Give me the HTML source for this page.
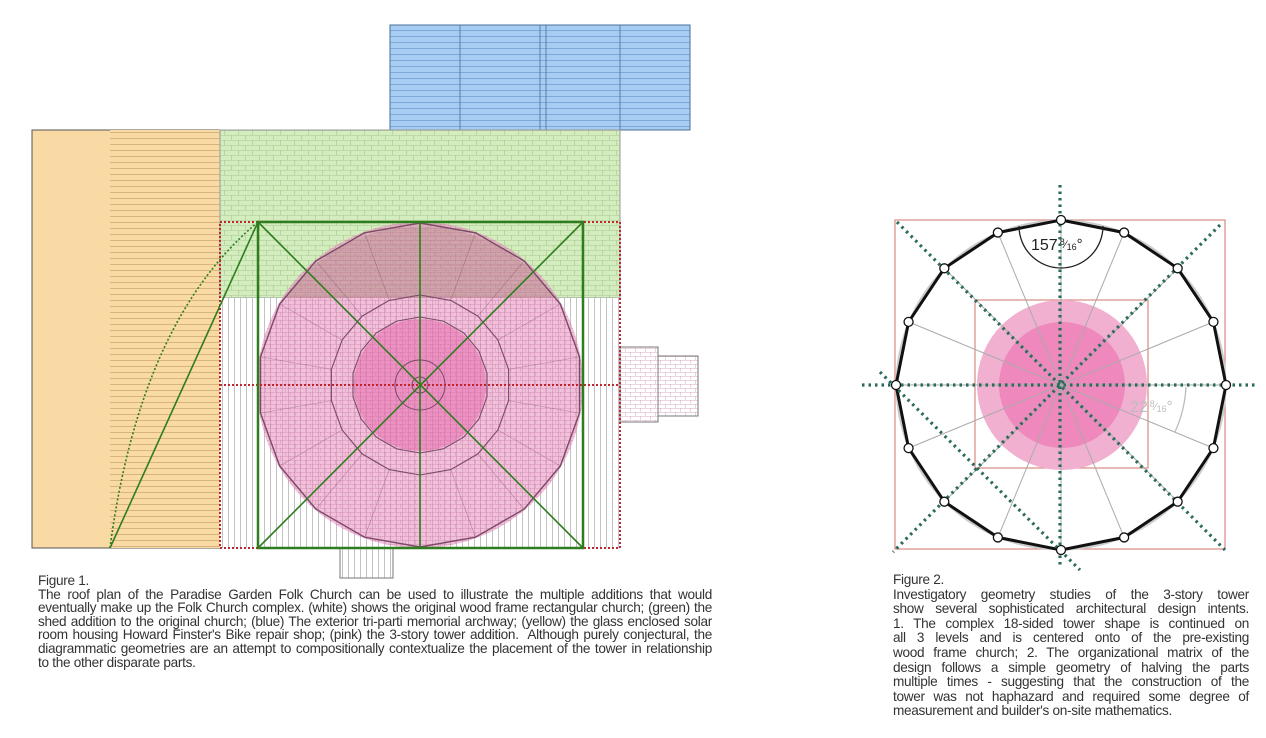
<!DOCTYPE html>
<html><head><meta charset="utf-8"><style>
body{margin:0;background:#fff;width:1266px;height:738px;overflow:hidden;position:relative;font-family:"Liberation Sans",Arial,sans-serif;}
.t{position:absolute;font-size:13.6px;line-height:13.6px;color:#333;letter-spacing:-0.3px;}
.t div{text-align:justify;text-align-last:justify;white-space:nowrap;}
.t div.l{text-align-last:left;}
</style></head><body>
<svg width="1266" height="738" style="position:absolute;left:0;top:0">
<defs>
<pattern id="hl" width="6" height="6" patternUnits="userSpaceOnUse"><rect width="6" height="6" fill="#f9d9a4"/><line x1="0" y1="0.5" x2="6" y2="0.5" stroke="#c9a46a" stroke-width="0.7"/></pattern>
<pattern id="bl" width="6" height="6" patternUnits="userSpaceOnUse"><rect width="6" height="6" fill="#a8cdf2"/><line x1="0" y1="0.5" x2="6" y2="0.5" stroke="#6a9bd0" stroke-width="0.7"/></pattern>
<pattern id="vl" width="6" height="6" patternUnits="userSpaceOnUse"><rect width="6" height="6" fill="#fff"/><line x1="0.5" y1="0" x2="0.5" y2="6" stroke="#aaa" stroke-width="0.7"/></pattern>
<pattern id="gb" width="14" height="10" patternUnits="userSpaceOnUse"><rect width="14" height="10" fill="#d3edbf"/><path d="M0 0.5H14M0 5.5H14M0.5 0V5M7.5 5V10" stroke="#a8c890" stroke-width="0.6" fill="none"/></pattern>
<pattern id="pb" width="10" height="8" patternUnits="userSpaceOnUse"><path d="M0 0.5H10M0 4.5H10M0.5 0V4M5.5 4V8" stroke="#c0709a" stroke-width="0.5" fill="none" opacity="0.6"/></pattern>
</defs>
<rect x="390" y="25" width="300" height="105" fill="url(#bl)" stroke="#4a6f99"/>
<path d="M460 25V130M540 25V130M546 25V130M620 25V130" stroke="#4a6f99" stroke-width="0.8"/>
<rect x="460" y="130" width="160" height="26" fill="#d3edbf" stroke="#999" stroke-width="0.8"/>
<rect x="32" y="130" width="188" height="418" fill="#f9d9a4" stroke="#555"/>
<rect x="110" y="130" width="110" height="418" fill="url(#hl)"/>
<rect x="220" y="130" width="400" height="168" fill="url(#gb)" stroke="#999"/>
<rect x="220" y="298" width="400" height="250" fill="url(#vl)"/>
<rect x="620" y="347" width="38" height="75" fill="url(#pb)" stroke="#777"/>
<rect x="658" y="356" width="40" height="60" fill="url(#pb)" stroke="#777"/>
<rect x="340" y="548" width="53" height="30" fill="url(#vl)" stroke="#777"/>
<circle cx="420" cy="385" r="163" fill="#e98cc0" opacity="0.55"/>
<path d="M285 298A163 163 0 0 1 555 298Z" fill="#b07a80" opacity="0.35"/>
<circle cx="420" cy="385" r="163" fill="url(#pb)"/>
<g id="polys" fill="none" stroke="#7a4a66" stroke-width="1.1"></g>
<circle cx="420" cy="385" r="66" fill="#e35aa4" opacity="0.45"/>
<circle cx="420" cy="385" r="25" fill="none" stroke="#7a4a66"/>
<circle cx="420" cy="385" r="8" fill="none" stroke="#7a4a66"/>
<rect x="220" y="222" width="400" height="326" fill="none" stroke="#c0262e" stroke-width="2" stroke-dasharray="2 2"/>
<line x1="220" y1="385" x2="620" y2="385" stroke="#c0262e" stroke-width="2" stroke-dasharray="2 2"/>
<rect x="258" y="222" width="325" height="326" fill="none" stroke="#2e7d1e" stroke-width="2.5"/>
<path d="M258 222L583 548M583 222L258 548M420 222V548M110 548L258 222" stroke="#2e7d1e" stroke-width="1.6" fill="none"/>
<path d="M110 548Q140 320 258 222" stroke="#2e7d1e" stroke-width="1.6" fill="none" stroke-dasharray="2 2"/>

<rect x="895" y="220" width="330" height="329" fill="none" stroke="#d98a80" stroke-width="1.2"/>
<rect x="975" y="300" width="173" height="168" fill="none" stroke="#d98a80" stroke-width="1.2"/>
<circle cx="1062" cy="385" r="85" fill="#f2b0d0"/>
<circle cx="1062" cy="385" r="63" fill="#ee88bd"/>
<g id="f2"></g>
<path d="M1019 226A42 42 0 0 0 1103 226" fill="none" stroke="#222" stroke-width="1.3"/>
<text x="1031" y="250" font-size="16" fill="#222" font-family="Liberation Sans,sans-serif">157<tspan font-size="9" dx="2" dy="-5">8</tspan><tspan font-size="11" dy="3">⁄</tspan><tspan font-size="9" dy="2">16</tspan><tspan font-size="15" dy="-1">°</tspan></text>
<path d="M1186 387A125 125 0 0 1 1175 432" fill="none" stroke="#bbb" stroke-width="1.3"/>
<text x="1130" y="412" font-size="16" fill="#bdbdbd" font-family="Liberation Sans,sans-serif">22<tspan font-size="9" dx="2" dy="-5">8</tspan><tspan font-size="11" dy="3">⁄</tspan><tspan font-size="9" dy="2">16</tspan><tspan font-size="15" dy="-1">°</tspan></text>
<g stroke="#2b6b5c" stroke-width="3.2" stroke-dasharray="2.5 4" fill="none">
<path d="M1060 185V565M862 385H1258M897 222L1225 550M1220 225L893 552M880 372L1080 570"/>
</g>
<g id="verts"></g>
</svg>
<div class="t" style="left:38px;top:574px;width:674px">
<div class="l">Figure 1.</div>
<div>The roof plan of the Paradise Garden Folk Church can be used to illustrate the multiple additions that would</div>
<div>eventually make up the Folk Church complex. (white) shows the original wood frame rectangular church; (green) the</div>
<div>shed addition to the original church; (blue) The exterior tri-parti memorial archway; (yellow) the glass enclosed solar</div>
<div>room housing Howard Finster's Bike repair shop; (pink) the 3-story tower addition.&nbsp; Although purely conjectural, the</div>
<div>diagrammatic geometries are an attempt to compositionally contextualize the placement of the tower in relationship</div>
<div class="l">to the other disparate parts.</div>
</div>
<div class="t" style="left:893px;top:573px;width:356px;line-height:14.6px">
<div class="l">Figure 2.</div>
<div>Investigatory geometry studies of the 3-story tower</div>
<div>show several sophisticated architectural design intents.</div>
<div>1. The complex 18-sided tower shape is continued on</div>
<div>all 3 levels and is centered onto of the pre-existing</div>
<div>wood frame church; 2. The organizational matrix of the</div>
<div>design follows a simple geometry of halving the parts</div>
<div>multiple times - suggesting that the construction of the</div>
<div>tower was not haphazard and required some degree of</div>
<div class="l">measurement and builder's on-site mathematics.</div>
</div>
<script>
var NS="http://www.w3.org/2000/svg";
function el(p,t,a){var e=document.createElementNS(NS,t);for(var k in a)e.setAttribute(k,a[k]);p.appendChild(e);return e;}
function poly(cx,cy,r,n,off){var s=[];for(var i=0;i<n;i++){var a=off+i*2*Math.PI/n;s.push((cx+r*Math.sin(a)).toFixed(1)+","+(cy-r*Math.cos(a)).toFixed(1));}return s.join(" ");}
var g=document.getElementById("polys");
el(g,"polygon",{points:poly(420,385,162,18,0),"stroke-width":1.4});
el(g,"polygon",{points:poly(420,385,90,18,0)});
el(g,"polygon",{points:poly(420,385,68,18,0)});
for(var i=0;i<18;i++){var a=i*Math.PI/9;el(g,"line",{x1:420+90*Math.sin(a),y1:385-90*Math.cos(a),x2:420+162*Math.sin(a),y2:385-162*Math.cos(a),"stroke-width":0.6,opacity:0.5});}
var f=document.getElementById("f2");
for(var i=0;i<16;i++){var a=i*Math.PI/8;el(f,"line",{x1:1061,y1:385,x2:1061+165*Math.sin(a),y2:385-165*Math.cos(a),stroke:"#aaa","stroke-width":1});}
el(f,"circle",{cx:1061,cy:385,r:164,fill:"none",stroke:"#ccc","stroke-width":3});
el(f,"polygon",{points:poly(1061,385,165,16,0),fill:"none",stroke:"#111","stroke-width":3});
var v=document.getElementById("verts");
for(var i=0;i<16;i++){var a=i*Math.PI/8;el(v,"circle",{cx:1061+165*Math.sin(a),cy:385-165*Math.cos(a),r:4.5,fill:"#fff",stroke:"#111","stroke-width":1.3});}
</script>
</body></html>
